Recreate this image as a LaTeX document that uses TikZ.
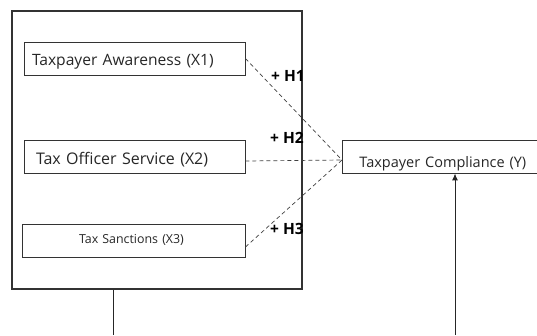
\documentclass[tikz,border=0pt]{standalone}
\usepackage{fontspec}
\setmainfont{Open Sans}
\usetikzlibrary{arrows.meta}
\tikzset{
  var/.style={draw=black!80, line width=0.9pt, minimum height=33pt, inner sep=0pt, text=black!85, align=left, text height=11pt, text depth=4pt},
  hyp/.style={font=\bfseries\fontsize{15.5}{17}\selectfont, inner sep=0pt},
  link/.style={dashed, dash pattern=on 4pt off 3pt, line width=0.7pt, black!75}
}
\begin{document}
\begin{tikzpicture}[x=1pt,y=-1pt]
	\useasboundingbox (0,0) rectangle (537,335);
	\node[draw=black!80, line width=1.1pt, minimum width=290pt, minimum height=278pt] (frame) at (157,150) {};
	\node[var, text width=221pt, font=\fontsize{15.6}{18}\selectfont] (x1) at (134.5,58.5) {\hspace{8pt}\raisebox{-3.7pt}{Taxpayer Awareness (X1)}};
	\node[var, text width=221pt, font=\fontsize{16}{18}\selectfont] (x2) at (134.5,156.5) {\hspace{12pt}\raisebox{-4.3pt}{Tax Officer Service (X2)}};
	\node[var, text width=223pt, font=\fontsize{12.4}{14}\selectfont] (x3) at (133.5,240.5) {\hspace{57pt}\raisebox{1pt}{Tax Sanctions (X3)}};
	\node[var, text width=200pt, font=\fontsize{14.5}{17}\selectfont, anchor=west] (y) at (342,156.5) {\hspace{17pt}\raisebox{-7.3pt}{Taxpayer Compliance (Y)}};
	\coordinate (yin) at ([yshift=-3.5pt]y.west);
	\draw[link] (x1.east) -- (yin);
	\draw[link] ([yshift=-4.5pt]x2.east) -- (yin);
	\draw[link] ([yshift=-6.5pt]x3.east) -- (yin);
	\node[hyp] (h1) at (288,76) {+ H1};
	\node[hyp] (h2) at (287,138) {+ H2};
	\node[hyp] (h3) at (287,229) {+ H3};
	\coordinate (out1) at (113,335);
	\coordinate (out2) at (455,335);
	\draw[line width=1pt, black!85] (out1 |- frame.south) -- (out1);
	\draw[line width=1pt, black!85, -{Latex[length=7pt,width=6pt]}] (out2) -- (out2 |- y.south);
\end{tikzpicture}
\end{document}
